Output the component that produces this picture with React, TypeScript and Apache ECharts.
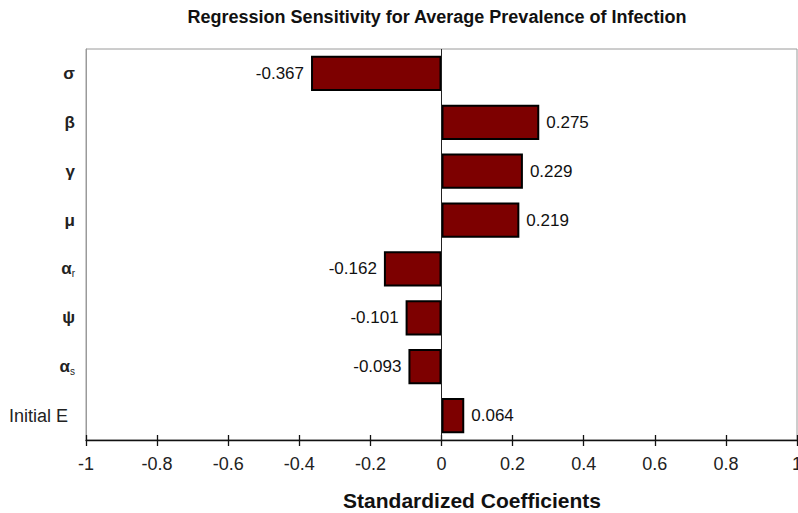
import React, { useEffect, useRef } from "react";
import * as echarts from "echarts";

const categories = ["σ", "β", "γ", "μ", "α_r", "ψ", "α_s", "Initial E"];
const coefficients = [-0.367, 0.275, 0.229, 0.219, -0.162, -0.101, -0.093, 0.064];
const titleText = "Regression Sensitivity for Average Prevalence of Infection";
const xAxisTitle = "Standardized Coefficients";

const FONT = "'Liberation Sans', Arial, Helvetica, sans-serif";

export default function App() {
  const ref = useRef<HTMLDivElement>(null);
  useEffect(() => {
    document.body.style.margin = "0";
    const chart = echarts.init(ref.current!, null, { renderer: "svg" });
    const axisLabelFmt = (v: string) => {
      if (v.includes("_")) {
        const [a, s] = v.split("_");
        return `{g|${a}}{sub|${s}}`;
      }
      if (v.length === 1) return `{g|${v}}`;
      return `{n|${v}}`;
    };
    chart.setOption({
      animation: false,
      backgroundColor: "#ffffff",
      grid: {
        left: 86,
        right: 1,
        top: 49,
        bottom: 73,
        show: true,
        borderColor: "#9a9a9a",
        borderWidth: 1,
        containLabel: false,
        outerBoundsMode: "none",
      },
      xAxis: [
        {
          type: "value",
          min: -1,
          max: 1,
          interval: 0.2,
          position: "bottom",
          axisLine: { show: true, onZero: false, lineStyle: { color: "#111", width: 1.3 } },
          axisTick: { show: true, length: 6, lineStyle: { color: "#111", width: 1.3 } },
          axisLabel: {
            color: "#222",
            fontSize: 18,
            fontFamily: FONT,
            margin: 15,
            hideOverlap: false,
            formatter: (v: number) => String(Math.round(v * 10) / 10),
          },
          splitLine: { show: false },
        },
        {
          type: "value",
          min: -1,
          max: 1,
          interval: 0.2,
          position: "bottom",
          axisLine: { show: false },
          axisTick: { show: true, inside: true, length: 5, lineStyle: { color: "#111", width: 1.3 } },
          axisLabel: { show: false },
          splitLine: { show: false },
        },
      ],
      yAxis: {
        type: "category",
        data: categories,
        inverse: true,
        axisLine: { show: true, onZero: false, lineStyle: { color: "#9a9a9a" } },
        axisTick: { show: false },
        axisLabel: {
          margin: 11,
          formatter: axisLabelFmt,
          rich: {
            g: { fontSize: 17, fontWeight: "bold", color: "#222", fontFamily: FONT },
            sub: { fontSize: 10, color: "#222", fontFamily: FONT, verticalAlign: "bottom", padding: [9, 0, 0, 0] },
            n: { fontSize: 18, color: "#222", fontFamily: FONT, padding: [0, 7, 0, 0] },
          },
        },
      },
      series: [
        {
          type: "bar",
          xAxisIndex: 0,
          data: coefficients.map((v) => ({
            value: v,
            label: { position: v < 0 ? "left" : "right" },
          })),
          barCategoryGap: "28%",
          itemStyle: { color: "#7d0000", borderColor: "#000", borderWidth: 2 },
          label: {
            show: true,
            color: "#111",
            fontSize: 17,
            fontFamily: FONT,
            distance: 7,
            formatter: (p: any) => p.value.toFixed(3),
          },
          markLine: {
            silent: true,
            symbol: "none",
            label: { show: false },
            lineStyle: { color: "#222", type: "solid", width: 1 },
            data: [{ xAxis: 0 }],
          },
          z: 3,
        },
      ],
      graphic: [
        {
          type: "text",
          x: 437,
          y: 17,
          style: { text: titleText, font: `bold 18px ${FONT}`, fill: "#111", textAlign: "center", textVerticalAlign: "middle" },
        },
        {
          type: "text",
          x: 472,
          y: 500,
          style: { text: xAxisTitle, font: `bold 21px ${FONT}`, fill: "#111", textAlign: "center", textVerticalAlign: "middle" },
        },
      ],
    });
    return () => chart.dispose();
  }, []);
  return <div ref={ref} style={{ width: 798, height: 513 }} />;
}
